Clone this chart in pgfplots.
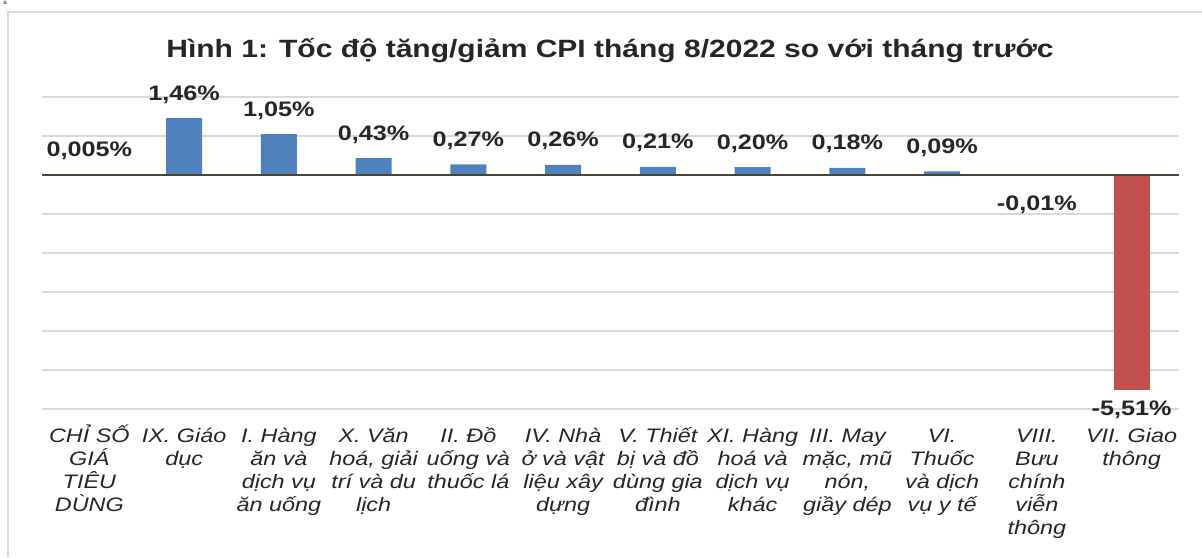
\documentclass[border=0pt]{standalone}
\usepackage{pgfplots}
\pgfplotsset{compat=1.18}
\usepackage{fontspec}
\setmainfont[FakeStretch=1.2]{Liberation Sans}
\definecolor{barblue}{HTML}{4F81BD}
\definecolor{barred}{HTML}{C0504D}
\definecolor{gridgray}{HTML}{D9D9D9}
\definecolor{zeroline}{HTML}{4A4633}
\definecolor{txt}{HTML}{262626}
\newcommand{\fl}{\rule{0pt}{9.5pt}}
\begin{document}
\begin{tikzpicture}[x=1pt,y=1pt]
\draw[gridgray, line width=1pt] (4,0) -- (4,272.5) -- (601,272.5);
\node[anchor=north west, inner sep=0pt, font=\fontsize{3}{3}\selectfont] at (1.5,278) {s};
\node[anchor=base, inner sep=0pt, font=\fontsize{12.5}{15}\selectfont\bfseries, text=txt] at (305,249.5) {Hình 1: Tốc độ tăng/giảm CPI tháng 8/2022 so với tháng trước};
\begin{axis}[
 at={(21pt,74pt)}, anchor=south west,
 scale only axis, width=568.5pt, height=156pt,
 xmin=-0.5, xmax=11.5, ymin=-6, ymax=2,
 ytick={-6,...,2}, yticklabels={},
 ymajorgrids, major grid style={gridgray, line width=0.75pt},
 axis line style={draw=none}, major tick length=0pt,
 clip=false,
 xtick={0,...,11},
 xticklabels={{\fl CHỈ SỐ\\GIÁ\\TIÊU\\DÙNG},{\fl IX. Giáo\\dục},{\fl I. Hàng\\ăn và\\dịch vụ\\ăn uống},{\fl X. Văn\\hoá, giải\\trí và du\\lịch},{\fl II. Đồ\\uống và\\thuốc lá},{\fl IV. Nhà\\ở và vật\\liệu xây\\dựng},{\fl V. Thiết\\bị và đồ\\dùng gia\\đình},{\fl XI. Hàng\\hoá và\\dịch vụ\\khác},{\fl III. May\\mặc, mũ\\nón,\\giầy dép},{\fl VI.\\Thuốc\\và dịch\\vụ y tế},{\fl VIII.\\Bưu\\chính\\viễn\\thông},{\fl VII. Giao\\thông}},
 xticklabel style={font=\fontsize{9.75}{11.5}\selectfont\itshape, align=center, anchor=north, inner sep=0pt, text=txt, yshift=-7pt},
 point meta=explicit symbolic,
]
\addplot[ybar, bar width=18pt, bar shift=0pt, fill=barblue, draw=none,
  nodes near coords,
  every node near coord/.append style={anchor=base, yshift=9pt, inner sep=0pt, font=\fontsize{10.5}{12}\selectfont\bfseries, text=txt}]
 table[x=x, y=y, meta=lab] {
x y lab
0 0.005 0,005\%
1 1.46 1,46\%
2 1.05 1,05\%
3 0.43 0,43\%
4 0.27 0,27\%
5 0.26 0,26\%
6 0.21 0,21\%
7 0.20 0,20\%
8 0.18 0,18\%
9 0.09 0,09\%
};
\addplot[ybar, bar width=18pt, bar shift=0pt, fill=barblue, draw=none,
  nodes near coords,
  every node near coord/.append style={anchor=base, yshift=-17.5pt, inner sep=0pt, font=\fontsize{10.5}{12}\selectfont\bfseries, text=txt}]
 table[x=x, y=y, meta=lab] {
x y lab
10 -0.01 -0,01\%
};
\addplot[ybar, bar width=18pt, bar shift=0pt, fill=barred, draw=none,
  nodes near coords,
  every node near coord/.append style={anchor=base, yshift=-13pt, inner sep=0pt, font=\fontsize{10.5}{12}\selectfont\bfseries, text=txt}]
 table[x=x, y=y, meta=lab] {
x y lab
11 -5.51 -5,51\%
};
\draw[zeroline, line width=1pt] (axis cs:-0.5,0) -- (axis cs:11.5,0);
\end{axis}
\pgfresetboundingbox
\useasboundingbox (0,0) rectangle (601,278.5);
\end{tikzpicture}
\end{document}
